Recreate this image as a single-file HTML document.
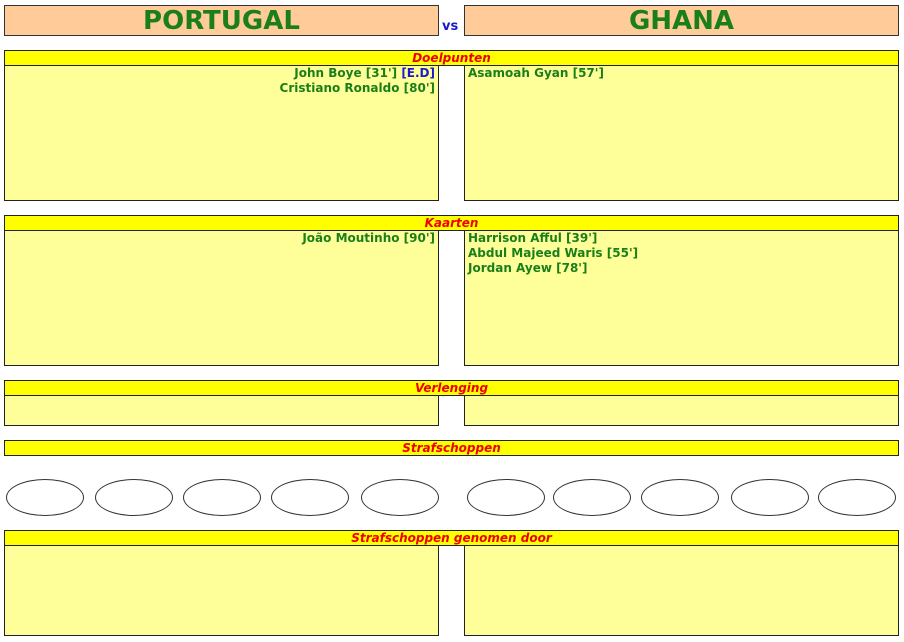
<!DOCTYPE html>
<html><head><style>
body{margin:0;width:904px;height:642px;background:#fff;position:relative;font-family:"DejaVu Sans",Verdana,sans-serif;overflow:hidden}
div{position:absolute;box-sizing:border-box}
.t{background:#ffcc99;border:1px solid #333;color:#1a7f1a;font-weight:bold;font-size:26px;text-align:center;line-height:30px}
.bar{left:4px;width:895px;height:16px;background:#ffff00;border:1px solid #222;color:#e00;font-style:italic;font-weight:bold;font-size:12px;text-align:center;line-height:14px}
.b{background:#ffff99;border:1px solid #222;color:#1a7f1a;font-weight:bold;font-size:12px;line-height:15px;padding:0 3px}
.L{left:4px;width:435px;text-align:right}
.R{left:464px;width:435px;text-align:left}
.e{width:78px;height:37px;border:1px solid #333;border-radius:50%;top:479px}
</style></head><body>
<div class="t" style="left:4px;top:5px;width:435px;height:31px">PORTUGAL</div>
<div style="left:442px;top:19px;color:#1a1acc;font-weight:bold;font-size:13px">vs</div>
<div class="t" style="left:464px;top:5px;width:435px;height:31px">GHANA</div>

<div class="bar" style="top:50px">Doelpunten</div>
<div class="b L" style="top:65px;height:136px">John Boye [31'] <span style="color:#1a1acc">[E.D]</span><br>Cristiano Ronaldo [80']</div>
<div class="b R" style="top:65px;height:136px">Asamoah Gyan [57']</div>

<div class="bar" style="top:215px">Kaarten</div>
<div class="b L" style="top:230px;height:136px">João Moutinho [90']</div>
<div class="b R" style="top:230px;height:136px">Harrison Afful [39']<br>Abdul Majeed Waris [55']<br>Jordan Ayew [78']</div>

<div class="bar" style="top:380px">Verlenging</div>
<div class="b L" style="top:395px;height:31px"></div>
<div class="b R" style="top:395px;height:31px"></div>

<div class="bar" style="top:440px">Strafschoppen</div>
<div class="e" style="left:6px"></div>
<div class="e" style="left:95px"></div>
<div class="e" style="left:183px"></div>
<div class="e" style="left:271px"></div>
<div class="e" style="left:361px"></div>
<div class="e" style="left:467px"></div>
<div class="e" style="left:553px"></div>
<div class="e" style="left:641px"></div>
<div class="e" style="left:731px"></div>
<div class="e" style="left:818px"></div>

<div class="bar" style="top:530px">Strafschoppen genomen door</div>
<div class="b L" style="top:545px;height:91px"></div>
<div class="b R" style="top:545px;height:91px"></div>
</body></html>
